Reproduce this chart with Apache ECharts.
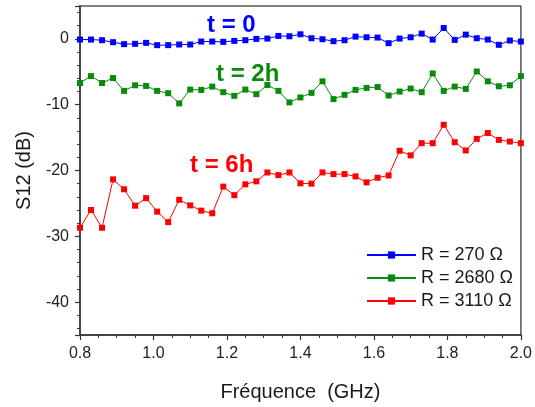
<!DOCTYPE html>
<html>
<head>
<meta charset="utf-8">
<script src="https://cdn.jsdelivr.net/npm/echarts@6/dist/echarts.min.js"></script>
<style>
html,body{margin:0;padding:0;background:#fff;}
#chart{width:535px;height:407px;}
</style>
</head>
<body>
<div id="chart"></div>
<script>
// Frequencies (GHz): 41 points from 0.8 to 2.0
var freqs = [0.80,0.83,0.86,0.89,0.92,0.95,0.98,1.01,1.04,1.07,1.10,1.13,1.16,1.19,1.22,1.25,1.28,1.31,1.34,1.37,1.40,1.43,1.46,1.49,1.52,1.55,1.58,1.61,1.64,1.67,1.70,1.73,1.76,1.79,1.82,1.85,1.88,1.91,1.94,1.97,2.00];

var s12_R270 = [-0.1,-0.1,-0.2,-0.5,-0.8,-0.75,-0.6,-0.95,-0.95,-0.85,-0.85,-0.4,-0.4,-0.45,-0.3,-0.2,0,0.05,0.45,0.4,0.7,0.1,-0.05,-0.35,-0.2,0.35,0.25,0.2,-0.65,0.05,0.25,0.8,-0.1,1.65,-0.15,0.65,0.1,-0.1,-0.9,-0.25,-0.4];

var s12_R2680 = [-6.7,-5.65,-6.7,-5.95,-7.9,-7.05,-7.15,-7.9,-8.25,-9.8,-7.7,-7.75,-7.25,-8.1,-8.65,-7.7,-8.4,-7.0,-7.9,-9.65,-8.9,-8.2,-6.45,-9.15,-8.5,-7.75,-7.45,-7.3,-8.6,-8.0,-7.55,-8.1,-5.25,-7.9,-7.25,-7.6,-4.95,-6.45,-7.2,-7.05,-5.65];

var s12_R3110 = [-28.7,-26.0,-28.7,-21.35,-22.85,-25.35,-24.2,-26.25,-27.85,-24.45,-25.3,-26.1,-26.5,-22.45,-23.75,-22.1,-21.65,-20.3,-20.7,-20.3,-21.95,-22.0,-20.3,-20.55,-20.55,-20.9,-21.8,-21.1,-20.75,-17.0,-17.7,-15.85,-15.85,-13.05,-15.7,-16.95,-15.2,-14.3,-15.35,-15.6,-15.85];

var seriesNames = ['R = 270 Ω', 'R = 2680 Ω', 'R = 3110 Ω'];
var seriesColors = ['#0000ff', '#0a8a0a', '#ff0000'];
var annotations = ['t = 0', 't = 2h', 't = 6h'];

function pairs(ys){ return freqs.map(function(x,i){ return [x, ys[i]]; }); }

var FONT = '"Liberation Sans", Arial, sans-serif';
var chart = echarts.init(document.getElementById('chart'), null, {renderer:'canvas'});

function mkSeries(name, data, color){
  return {
    name: name, type: 'line', data: pairs(data),
    symbol: 'rect', symbolSize: 6, showSymbol: true,
    lineStyle: {color: color, width: 1},
    itemStyle: {color: color},
    animation: false
  };
}

chart.setOption({
  backgroundColor: '#ffffff',
  animation: false,
  grid: {left: 80, right: 12, top: 6, bottom: 70, show: true, borderColor: '#555', borderWidth: 1.5, backgroundColor: 'transparent'},
  xAxis: {
    type: 'value', min: 0.8, max: 2.0, interval: 0.2,
    name: 'Fréquence  (GHz)', nameLocation: 'middle', nameGap: 47,
    nameTextStyle: {fontFamily: FONT, fontSize: 20, color: '#1a1a1a'},
    axisLine: {show: true, onZero: false, lineStyle: {color: '#333', width: 1.5}},
    axisTick: {show: true, inside: false, length: 5, lineStyle: {color: '#333', width: 1.2}},
    minorTick: {show: true, splitNumber: 4, length: 3, lineStyle: {color: '#333', width: 1}},
    splitLine: {show: false},
    axisLabel: {fontFamily: FONT, fontSize: 16, color: '#222', margin: 11,
      formatter: function(v){ return v.toFixed(1); }}
  },
  yAxis: {
    type: 'value', min: -45, max: 5, splitNumber: 5,
    name: 'S12 (dB)', nameLocation: 'middle', nameGap: 46, nameRotate: 90,
    nameTextStyle: {fontFamily: FONT, fontSize: 20, color: '#1a1a1a'},
    axisLine: {show: true, onZero: false, lineStyle: {color: '#333', width: 1.5}},
    axisTick: {show: true, inside: false, length: 5, lineStyle: {color: '#333', width: 1.2}},
    minorTick: {show: true, splitNumber: 5, length: 3, lineStyle: {color: '#333', width: 1}},
    splitLine: {show: false},
    axisLabel: {fontFamily: FONT, fontSize: 16, color: '#222', margin: 11,
      showMinLabel: false, showMaxLabel: false,
      formatter: function(v){ return (Math.round(v) % 10 === 0) ? String(Math.round(v)) : ''; }}
  },
  legend: {
    orient: 'vertical', left: 361, top: 241, itemWidth: 49, itemHeight: 9, itemGap: 5,
    textStyle: {fontFamily: FONT, fontSize: 18, color: '#1a1a1a'},
    data: seriesNames
  },
  graphic: [
    {type: 'text', left: 207, top: 13, style: {text: annotations[0], fill: seriesColors[0], font: 'bold 24px ' + FONT}},
    {type: 'text', left: 216, top: 62, style: {text: annotations[1], fill: '#0a8a0a', font: 'bold 24px ' + FONT}},
    {type: 'text', left: 190, top: 153, style: {text: annotations[2], fill: seriesColors[2], font: 'bold 24px ' + FONT}}
  ],
  series: [
    mkSeries(seriesNames[0], s12_R270, seriesColors[0]),
    mkSeries(seriesNames[1], s12_R2680, seriesColors[1]),
    mkSeries(seriesNames[2], s12_R3110, seriesColors[2])
  ]
});
</script>
</body>
</html>
